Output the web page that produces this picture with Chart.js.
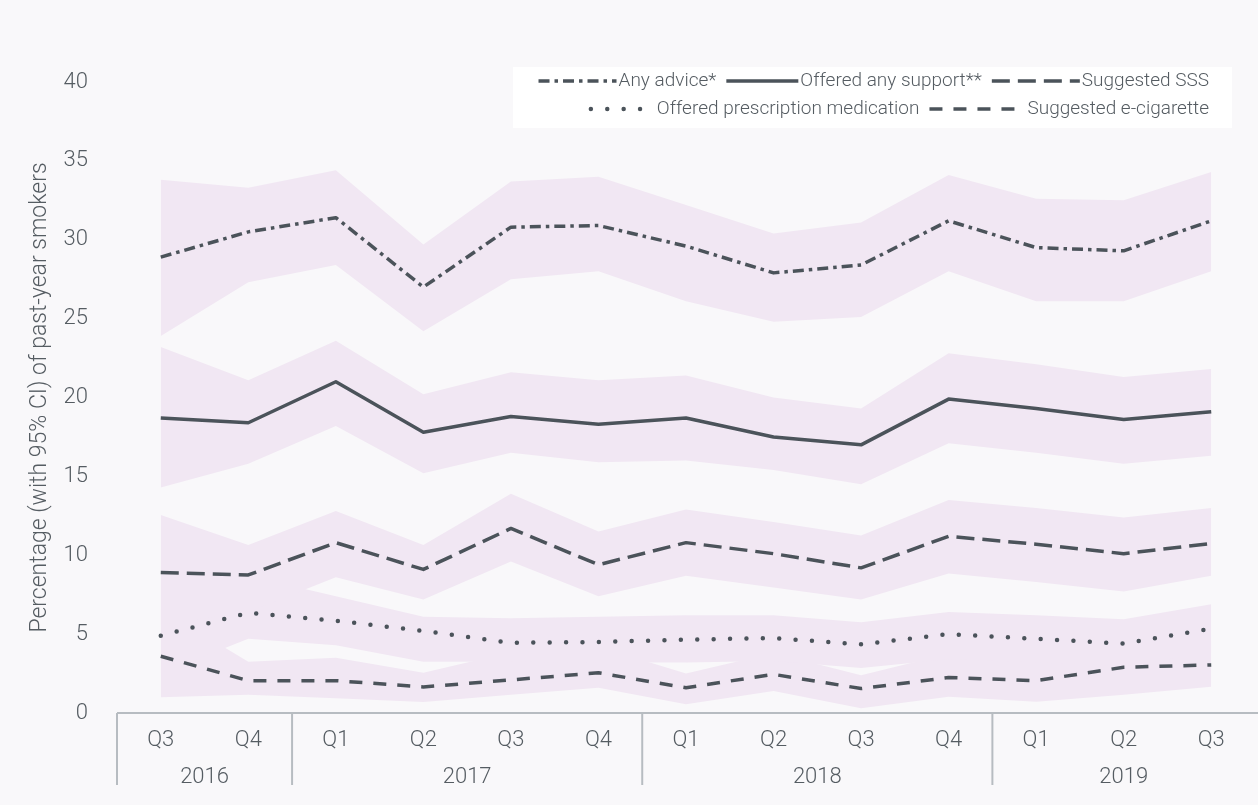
<!DOCTYPE html>
<html><head><meta charset="utf-8">
<script src="https://cdn.jsdelivr.net/npm/chart.js@4/dist/chart.umd.min.js"></script>
<style>html,body{margin:0;padding:0;background:#f9f8fa;}#wrap{width:1258px;height:805px;position:relative}</style>
</head><body><div id="wrap"><canvas id="c"></canvas></div>
<script>
// ---- data ----
const quarters = ['Q3','Q4','Q1','Q2','Q3','Q4','Q1','Q2','Q3','Q4','Q1','Q2','Q3'];
const yearLabels = ['2016','2017','2018','2019'];
const yearSpans = [2,4,4,3];

const anyAdvice     = [28.9, 30.5, 31.4, 27.0, 30.8, 30.9, 29.6, 27.9, 28.4, 31.2, 29.5, 29.3, 31.2];
const anyAdviceLow  = [23.9, 27.3, 28.4, 24.2, 27.5, 28.0, 26.1, 24.8, 25.1, 28.0, 26.1, 26.1, 28.0];
const anyAdviceHigh = [33.8, 33.3, 34.4, 29.7, 33.7, 34.0, 32.2, 30.4, 31.1, 34.1, 32.6, 32.5, 34.3];

const support     = [18.7, 18.4, 21.0, 17.8, 18.8, 18.3, 18.7, 17.5, 17.0, 19.9, 19.3, 18.6, 19.1];
const supportLow  = [14.3, 15.8, 18.2, 15.2, 16.5, 15.9, 16.0, 15.4, 14.5, 17.1, 16.5, 15.8, 16.3];
const supportHigh = [23.2, 21.1, 23.6, 20.2, 21.6, 21.1, 21.4, 20.0, 19.3, 22.8, 22.1, 21.3, 21.8];

const sss     = [8.9, 8.75, 10.8, 9.1, 11.7, 9.4, 10.8, 10.1, 9.2, 11.2, 10.7, 10.1, 10.75];
const sssLow  = [5.6, 6.4, 8.6, 7.2, 9.6, 7.4, 8.7, 7.95, 7.2, 8.85, 8.3, 7.7, 8.7];
const sssHigh = [12.55, 10.65, 12.8, 10.65, 13.9, 11.5, 12.9, 12.1, 11.25, 13.5, 13.0, 12.4, 13.0];

const rx     = [4.9, 6.35, 5.85, 5.2, 4.45, 4.5, 4.65, 4.75, 4.35, 5.0, 4.7, 4.4, 5.35];
const rxLow  = [2.5, 4.7, 4.3, 3.25, 3.25, 3.2, 3.2, 3.3, 2.85, 3.4, 3.2, 3.0, 3.8];
const rxHigh = [8.7, 8.7, 7.4, 6.1, 6.0, 6.1, 6.2, 6.2, 5.75, 6.4, 6.2, 5.95, 6.9];

const ecig     = [3.6, 2.05, 2.05, 1.65, 2.1, 2.55, 1.6, 2.45, 1.55, 2.25, 2.05, 2.9, 3.05];
const ecigLow  = [1.0, 1.15, 0.93, 0.7, 1.15, 1.6, 0.55, 1.4, 0.3, 1.03, 0.72, 1.15, 1.67];
const ecigHigh = [6.6, 3.25, 3.5, 2.55, 3.85, 4.2, 2.5, 3.8, 2.4, 3.75, 3.4, 4.5, 4.6];

// ---- styles ----
const LINE = '#4b535a';
const BAND = '#f1e7f3';
const TEXT = '#555c62';
const AXIS = '#b7bcc1';
const FONT = 'Roboto, "Noto Sans", sans-serif';

function band(low, high) {
  return [
    {data: low, borderWidth: 0, pointRadius: 0, fill: false, order: 1, isBand: true},
    {data: high, borderWidth: 0, pointRadius: 0, fill: '-1', backgroundColor: BAND, order: 1, isBand: true}
  ];
}
function series(label, data, dash, cap, width, sample) {
  return {label, data, borderColor: LINE, borderWidth: width, borderDash: dash, borderCapStyle: cap,
    borderJoinStyle: 'round', pointRadius: 0, fill: false, tension: 0, order: 0, isSeries: true, sample};
}

const datasets = [
  ...band(anyAdviceLow, anyAdviceHigh),
  ...band(supportLow, supportHigh),
  ...band(sssLow, sssHigh),
  ...band(rxLow, rxHigh),
  ...band(ecigLow, ecigHigh),
  series('Any advice*', anyAdvice, [11,5,3.5,5], 'butt', 3.5, 78),
  series('Offered any support**', support, [], 'butt', 3.5, 72),
  series('Suggested SSS', sss, [18,8], 'butt', 3.5, 88),
  series('Offered prescription medication', rx, [0,16.4], 'round', 4.5, 64),
  series('Suggested e-cigarette', ecig, [13,11], 'butt', 3.5, 96)
];

const decor = {
  id: 'decor',
  beforeDraw(chart) {
    const c = chart.ctx; c.save(); c.fillStyle = '#f9f8fa'; c.fillRect(0,0,chart.width,chart.height); c.restore();
  },
  afterDraw(chart) {
    const c = chart.ctx, x = chart.scales.x;
    const y0 = x.top;
    const half = (x.getPixelForValue(1) - x.getPixelForValue(0)) / 2;
    c.save();
    c.strokeStyle = AXIS; c.lineWidth = 2;
    c.beginPath(); c.moveTo(x.left, y0); c.lineTo(chart.width, y0); c.stroke();
    c.font = '300 22px ' + FONT; c.fillStyle = TEXT; c.textAlign = 'center'; c.textBaseline = 'middle';
    let idx = 0;
    yearSpans.forEach((span, i) => {
      const left = x.getPixelForValue(idx) - half;
      const right = x.getPixelForValue(idx + span - 1) + half;
      c.beginPath(); c.moveTo(left, y0); c.lineTo(left, 785); c.stroke();
      c.fillText(yearLabels[i], (left + right) / 2, 777);
      idx += span;
    });
    // legend
    c.fillStyle = '#ffffff';
    c.fillRect(513, 67, 719, 61);
    const items = chart.data.datasets.filter(d => d.isSeries);
    const rows = [items.slice(0,3), items.slice(3)];
    const rowY = [81, 109];
    c.font = '300 19px ' + FONT; c.textAlign = 'left';
    rows.forEach((row, r) => {
      const gap = 2, between = 10;
      const total = row.reduce((s, d) => s + d.sample + gap + c.measureText(d.label).width, 0) + between * (row.length - 1);
      let px = 1209 - total;
      const py = rowY[r];
      row.forEach(d => {
        c.strokeStyle = d.borderColor; c.lineWidth = d.borderWidth; c.lineCap = d.borderCapStyle;
        c.setLineDash(d.borderDash);
        c.beginPath(); c.moveTo(px, py); c.lineTo(px + d.sample, py); c.stroke();
        c.setLineDash([]);
        px += d.sample + gap;
        c.fillStyle = TEXT; c.fillText(d.label, px, py);
        px += c.measureText(d.label).width + between;
      });
    });
    c.restore();
  }
};

new Chart(document.getElementById('c'), {
  type: 'line',
  data: {labels: quarters, datasets},
  plugins: [decor],
  options: {
    responsive: true, maintainAspectRatio: false, animation: false,
    layout: {padding: {top: 82, right: 3, bottom: 0, left: 0}},
    plugins: {legend: {display: false}, tooltip: {enabled: false}, filler: {drawTime: 'beforeDatasetsDraw'}},
    scales: {
      x: {
        type: 'category', offset: true,
        grid: {display: false, drawTicks: false}, border: {display: false},
        ticks: {color: TEXT, font: {family: FONT, size: 22, weight: '300'}, padding: 14, maxRotation: 0, autoSkip: false},
        afterFit(s) { s.height = 92; }
      },
      y: {
        min: 0, max: 40,
        grid: {display: false, drawTicks: false}, border: {display: false},
        ticks: {stepSize: 5, color: TEXT, font: {family: FONT, size: 22, weight: '300'}, padding: 29},
        title: {display: true, text: 'Percentage (with 95% CI) of past-year smokers', color: TEXT,
          font: {family: FONT, size: 23, weight: '300'}, padding: {top: 26, bottom: 0}},
        afterFit(s) { s.width = 117; }
      }
    }
  }
});
</script></body></html>
